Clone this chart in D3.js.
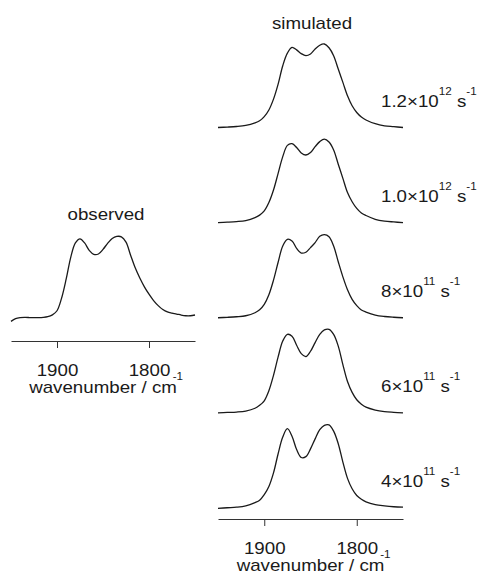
<!DOCTYPE html>
<html lang="en">
<head>
<meta charset="UTF-8">
<title>observed and simulated spectra</title>
<style>
    body { margin: 0; background: #fff; }
    text { font-family: "Liberation Sans", Arial, sans-serif; fill: #1a1a1a; white-space: pre; }
</style>
</head>
<body>
<div id="chart-area"></div>
<script src="https://d3js.org/d3.v7.min.js"></script>
<script>

    // wavenumber grid of the simulated spectra (cm-1)
    const simWavenumbers = [1950, 1940, 1930, 1920, 1910, 1905, 1900, 1895, 1890, 1885, 1880, 1875, 1870, 1865,
        1860, 1855, 1850, 1845, 1840, 1835, 1830, 1825, 1820, 1815, 1810, 1805, 1800, 1795, 1790, 1780, 1770, 1760, 1750];

    // normalised intensities, one array per exchange rate
    const sim1p2e12 = [0, 0.005, 0.012, 0.025, 0.055, 0.08, 0.13, 0.21, 0.34, 0.52, 0.74, 0.89, 0.96, 0.93,
        0.885, 0.86, 0.88, 0.94, 0.985, 1.0, 0.955, 0.86, 0.70, 0.54, 0.38, 0.26, 0.18, 0.125, 0.09, 0.045, 0.02, 0.01, 0];
    const sim1p0e12 = [0, 0.005, 0.012, 0.025, 0.06, 0.09, 0.14, 0.24, 0.39, 0.59, 0.79, 0.925, 0.945, 0.90,
        0.835, 0.81, 0.84, 0.91, 0.97, 1.0, 0.965, 0.87, 0.70, 0.53, 0.36, 0.25, 0.17, 0.115, 0.085, 0.04, 0.018, 0.008, 0];
    const sim8e11 = [0, 0.005, 0.012, 0.024, 0.06, 0.095, 0.16, 0.275, 0.45, 0.665, 0.86, 0.94, 0.92, 0.83,
        0.775, 0.785, 0.84, 0.9, 0.975, 0.995, 0.97, 0.86, 0.67, 0.49, 0.335, 0.22, 0.145, 0.093, 0.068, 0.032, 0.015, 0.006, 0];
    const sim6e11 = [0, 0.005, 0.01, 0.022, 0.055, 0.09, 0.145, 0.265, 0.45, 0.67, 0.86, 0.94, 0.918, 0.81,
        0.71, 0.675, 0.738, 0.842, 0.94, 0.993, 1.0, 0.94, 0.80, 0.578, 0.375, 0.245, 0.157, 0.104, 0.068, 0.034, 0.016, 0.007, 0];
    const sim4e11 = [-0.005, 0.003, 0.01, 0.026, 0.065, 0.093, 0.16, 0.257, 0.42, 0.65, 0.85, 0.95, 0.86, 0.70,
        0.605, 0.615, 0.708, 0.828, 0.938, 0.99, 0.995, 0.92, 0.77, 0.55, 0.355, 0.23, 0.149, 0.104, 0.074, 0.04, 0.025, 0.015, 0.01];

    const rateMantissas = ['1.2\u00d710', '1.0\u00d710', '8\u00d710', '6\u00d710', '4\u00d710'];
    const rateExponents = ['12', '12', '11', '11', '11'];

    // observed spectrum
    const obsWavenumbers = [1950, 1945, 1940, 1935, 1930, 1925, 1920, 1915, 1910, 1905, 1900, 1895, 1890, 1885,
        1880, 1875, 1870, 1865, 1860, 1855, 1850, 1845, 1840, 1835, 1830, 1825, 1820, 1815, 1810, 1805, 1800,
        1795, 1790, 1785, 1780, 1775, 1770, 1765, 1760, 1755, 1750];
    const observed = [-0.045, -0.012, 0, 0.003, 0.002, 0, 0, 0.003, 0.012, 0.035, 0.085, 0.24, 0.474, 0.742,
        0.915, 0.965, 0.915, 0.825, 0.776, 0.78, 0.836, 0.91, 0.97, 0.995, 0.99, 0.925, 0.765, 0.61, 0.486, 0.378,
        0.288, 0.21, 0.148, 0.1, 0.07, 0.056, 0.045, 0.032, 0.024, 0.024, 0.033];

    const tickValues = [1900, 1800];

    const simSeries = [sim1p2e12, sim1p0e12, sim8e11, sim6e11, sim4e11];

    const outerWidth = 479;
    const outerHeight = 574;
    const stretch = 1.17;   // lettering in the figure is a little wide
    const ink = '#1a1a1a';

    const svg = d3.select('#chart-area').append('svg')
        .attr('width', outerWidth)
        .attr('height', outerHeight);

    const xObs = d3.scaleLinear().domain([1950, 1750]).range([11, 195]);
    const xSim = d3.scaleLinear().domain([1950, 1750]).range([218, 403]);
    const yObs = d3.scaleLinear().domain([0, 1]).range([317.7, 236]);
    const rowBase = d3.scalePoint().domain(d3.range(simSeries.length)).range([127.5, 508]);
    const ySim = d3.scaleLinear().domain([0, 1]).range([0, -83.5]);

    function stretchedText(parent, x, y, anchor) {
        return parent.append('text')
            .attr('transform', `translate(${x},${y}) scale(${stretch},1)`)
            .attr('text-anchor', anchor)
            .attr('font-size', 16);
    }

    function drawAxis(scale, y) {
        const g = svg.append('g')
            .attr('transform', `translate(0,${y})`)
            .call(d3.axisBottom(scale)
                .tickValues(tickValues)
                .tickSize(7)
                .tickSizeOuter(0)
                .tickPadding(16.5)
                .tickFormat(d3.format('d')))
            .attr('font-size', 16)
            .attr('font-family', '"Liberation Sans", Arial, sans-serif');
        g.select('.domain').attr('stroke', '#333');
        g.selectAll('.tick line').attr('stroke', '#333');
        g.selectAll('.tick text')
            .attr('fill', ink)
            .attr('transform', `scale(${stretch},1)`);

        const cx = (scale.range()[0] + scale.range()[1]) / 2;
        const label = stretchedText(g, cx, 52, 'middle').text('wavenumber / cm');
        const w = label.node().getComputedTextLength() * stretch;
        g.append('text')
            .attr('transform', `translate(${cx + w / 2 + 1},${52 - 13}) scale(${stretch},1)`)
            .attr('font-size', 10)
            .text('-1');
    }

    // observed panel
    const obsLine = d3.line()
        .x((d, i) => xObs(obsWavenumbers[i]))
        .y(d => yObs(d))
        .curve(d3.curveCatmullRom.alpha(0.5));

    svg.append('path')
        .datum(observed)
        .attr('d', obsLine)
        .attr('fill', 'none')
        .attr('stroke', ink)
        .attr('stroke-width', 1.3);

    stretchedText(svg, 106, 220, 'middle').text('observed');
    drawAxis(xObs, 341);

    // simulated panel
    const simLine = d3.line()
        .x((d, i) => xSim(simWavenumbers[i]))
        .y(d => ySim(d))
        .curve(d3.curveCatmullRom.alpha(0.5));

    const rows = svg.selectAll('.sim-row')
        .data(simSeries)
        .join('g')
        .attr('class', 'sim-row')
        .attr('transform', (d, i) => `translate(0,${rowBase(i)})`);

    rows.append('path')
        .attr('d', d => simLine(d))
        .attr('fill', 'none')
        .attr('stroke', ink)
        .attr('stroke-width', 1.3);

    rows.each(function (d, i) {
        const t = stretchedText(d3.select(this), 381, -21, 'start');
        t.append('tspan').text(rateMantissas[i]);
        t.append('tspan').attr('font-size', 10).attr('dy', -12).text(rateExponents[i]);
        t.append('tspan').attr('dy', 12).text(' s');
        t.append('tspan').attr('font-size', 10).attr('dy', -12).text('-1');
    });

    stretchedText(svg, 312, 29, 'middle').text('simulated');
    drawAxis(xSim, 519);

</script>
</body>
</html>
